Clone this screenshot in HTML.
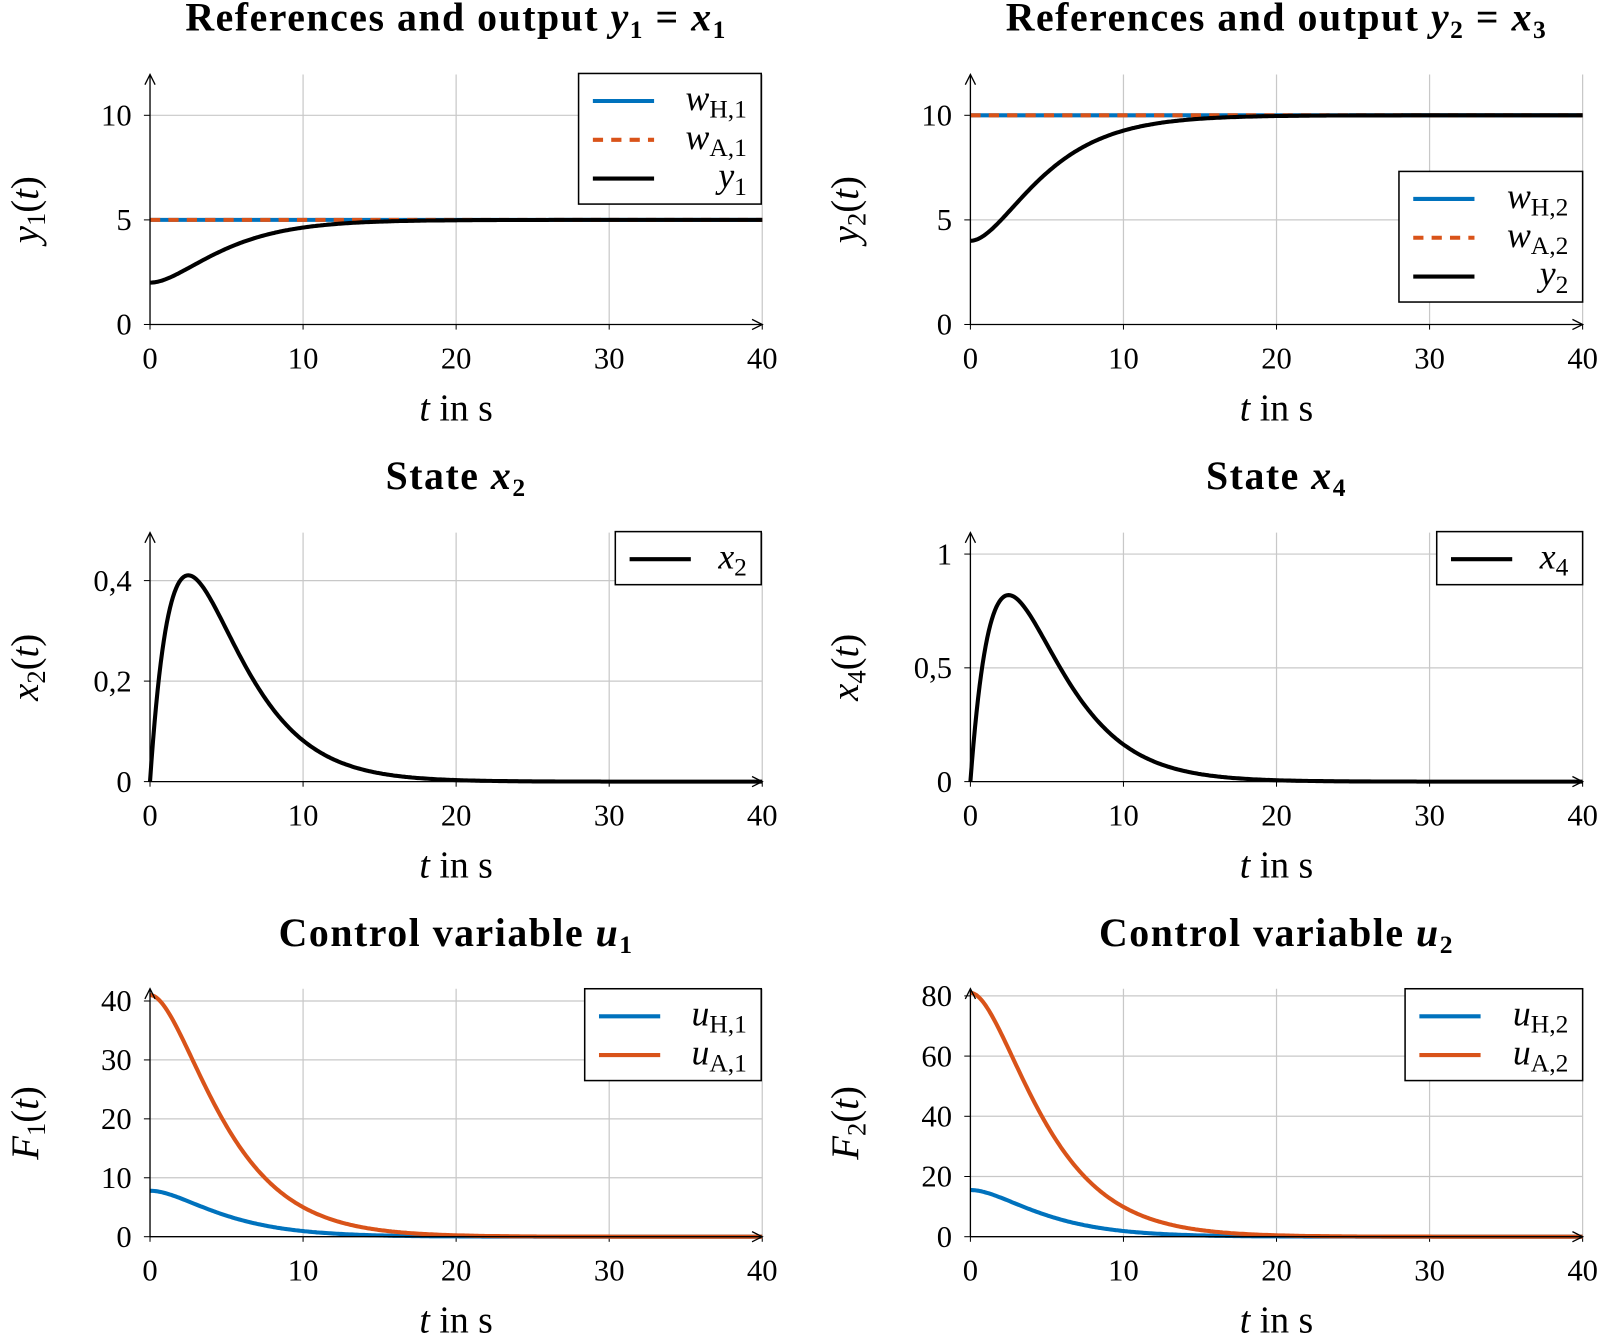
<!DOCTYPE html>
<html><head><meta charset="utf-8"><style>
html,body{margin:0;padding:0;background:#fff;}
svg{display:block;}
text{font-family:"Liberation Serif",serif;fill:#000;}
.t{font-size:30px;}
.ti{font-size:39px;font-weight:bold;letter-spacing:1.5px;}
.it{font-style:italic;}
</style></head><body>
<svg id="s" width="1600" height="1337" viewBox="0 0 1568 1310.3" xmlns="http://www.w3.org/2000/svg"></svg>
<script>
const S=document.getElementById('s');let h='';
const BL='#0072BD',OR='#D95319';
function g(t,tau){return (1+t/tau)*Math.exp(-t/tau);}
function panel(o){
 const X0=o.x0,X1=o.x0+600,Y0=o.y0,ppu=o.ppu;
 const sx=t=>X0+t*15, sy=v=>Y0-v*ppu;
 for(let t=10;t<=40;t+=10)h+=`<line x1="${sx(t)}" y1="${o.top}" x2="${sx(t)}" y2="${Y0}" stroke="#c8c8c8" stroke-width="1.2"/>`;
 o.yt.forEach(v=>{ if(v!==0)h+=`<line x1="${X0}" y1="${sy(v)}" x2="${X1}" y2="${sy(v)}" stroke="#c8c8c8" stroke-width="1.2"/>`;
   h+=`<line x1="${X0-6}" y1="${sy(v)}" x2="${X0}" y2="${sy(v)}" stroke="#000" stroke-width="1"/>`;
   h+=`<text class="t" x="${X0-18}" y="${sy(v)+10}" text-anchor="end">${String(v).replace('.',',')}</text>`;});
 for(let t=0;t<=40;t+=10){h+=`<line x1="${sx(t)}" y1="${Y0}" x2="${sx(t)}" y2="${Y0+5}" stroke="#000"/>`;
   h+=`<text class="t" x="${sx(t)}" y="${Y0+43}" text-anchor="middle">${t}</text>`;}
 o.series.forEach(s=>{let d='';for(let i=0;i<=400;i++){const t=i*0.1;d+=(i?'L':'M')+sx(t).toFixed(1)+','+sy(s.f(t)).toFixed(1);}
   h+=`<path d="${d}" fill="none" stroke="${s.c}" stroke-width="4" ${s.dash?'stroke-dasharray="10 8"':''}/>`;});
 h+=`<line x1="${X0}" y1="${Y0}" x2="${X1}" y2="${Y0}" stroke="#000" stroke-width="1.3"/>`;
 h+=`<path d="M${X1-10},${Y0-5} L${X1},${Y0} L${X1-10},${Y0+5}" fill="none" stroke="#000" stroke-width="1.3"/>`;
 h+=`<line x1="${X0}" y1="${Y0}" x2="${X0}" y2="${o.top}" stroke="#000" stroke-width="1.3"/>`;
 h+=`<path d="M${X0-5},${o.top+10} L${X0},${o.top} L${X0+5},${o.top+10}" fill="none" stroke="#000" stroke-width="1.3"/>`;
 h+=`<text class="t" x="${X0+300}" y="${Y0+94}" text-anchor="middle" style="font-size:37px"><tspan class="it">t</tspan> in s</text>`;
 const cy=(Y0+o.top)/2+10;
 h+=`<text x="${X0-110}" y="${cy}" transform="rotate(-90 ${X0-110} ${cy})" text-anchor="middle" style="font-size:38px">${o.yl}</text>`;
 h+=`<text class="ti" x="${X0+300}" y="${o.ty}" text-anchor="middle">${o.title}</text>`;
 const L=o.leg;h+=`<rect x="${L.x}" y="${L.y}" width="${L.w}" height="${L.h}" fill="#fff" stroke="#000" stroke-width="1.5"/>`;
 L.items.forEach((it,i)=>{const yy=L.y+27+i*38;
   h+=`<line x1="${L.x+14}" y1="${yy}" x2="${L.x+74}" y2="${yy}" stroke="${it.c}" stroke-width="4" ${it.dash?'stroke-dasharray="10 8"':''}/>`;
   h+=`<text x="${L.x+L.w-14}" y="${yy+9}" text-anchor="end" style="font-size:35px">${it.l}</text>`;});
}
const w=(a,b)=>`<tspan class="it">${a}</tspan><tspan style="font-size:25px" dy="7">${b}</tspan>`;
const yl=(a,b)=>`<tspan class="it">${a}</tspan><tspan style="font-size:26px" dy="7">${b}</tspan><tspan dy="-7">(</tspan><tspan class="it">t</tspan>)`;
const tau=2.75;
[0,1].forEach(k=>{
 const x0=k?951:147, n=k+1, ref=k?10:5, y0v=k?4:2;
 panel({x0,y0:318,ppu:20.5,top:73,yt:[0,5,10],ty:30,
  title:`References and output ${w('y',n)}<tspan dy="-7"> = </tspan>${w('x',k?3:1)}`,yl:yl('y',n),
  series:[{c:BL,f:t=>ref},{c:OR,dash:1,f:t=>ref},{c:'#000',f:t=>ref-(ref-y0v)*g(t,tau)}],
  leg:{x:k?1371:567,y:k?168:72,w:k?180:179,h:128,items:[{c:BL,l:w('w','H,'+n)},{c:OR,dash:1,l:w('w','A,'+n)},{c:'#000',l:w('y',n)}]}});
 const pk=k?5.57:2.79, t2=2.5;
 panel({x0,y0:766,ppu:k?223:492.5,top:522,yt:k?[0,0.5,1]:[0,0.2,0.4],ty:479,
  title:`State ${w('x',k?4:2)}`,yl:yl('x',k?4:2),
  series:[{c:'#000',f:t=>pk*t/(t2*t2)*Math.exp(-t/t2)*(1+0.0*t)}],
  leg:{x:k?1408:603,y:521,w:143,h:52,items:[{c:'#000',l:w('x',k?4:2)}]}});
 const a=k?81:41,b=k?15.5:7.8;
 panel({x0,y0:1212,ppu:k?2.95:5.775,top:969,yt:k?[0,20,40,60,80]:[0,10,20,30,40],ty:927,
  title:`Control variable ${w('u',n)}`,yl:`<tspan class="it">F</tspan><tspan style="font-size:26px" dy="7">${n}</tspan><tspan dy="-7">(</tspan><tspan class="it">t</tspan>)`,
  series:[{c:BL,f:t=>b*g(t,tau)},{c:OR,f:t=>a*g(t,tau)}],
  leg:{x:k?1377:573,y:969,w:k?174:173,h:90,items:[{c:BL,l:w('u','H,'+n)},{c:OR,l:w('u','A,'+n)}]}});
});
S.innerHTML=h;
</script>
</body></html>
